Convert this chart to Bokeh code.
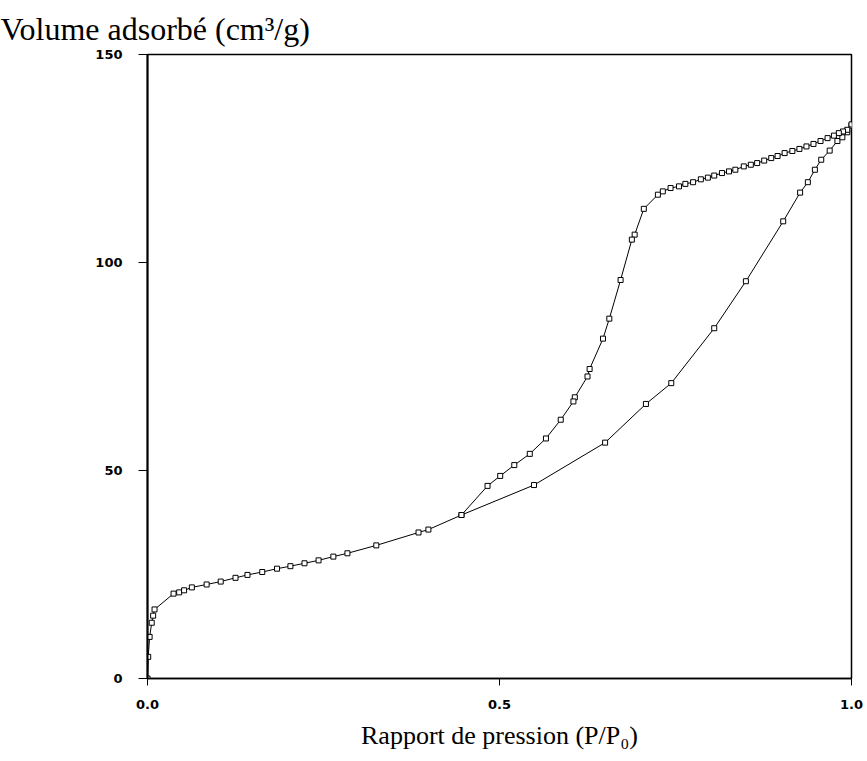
from bokeh.plotting import figure
from bokeh.models import FixedTicker, Range1d
from bokeh.embed import file_html
from bokeh.resources import INLINE

# Adsorption branch (P/P0, volume cm3/g)
ads_p = [0.0, 0.001, 0.003, 0.006, 0.008, 0.010, 0.037, 0.045, 0.052, 0.063,
         0.084, 0.104, 0.125, 0.142, 0.163, 0.184, 0.203, 0.223, 0.243, 0.264,
         0.284, 0.325, 0.385, 0.399, 0.446, 0.549, 0.650, 0.708, 0.744, 0.805,
         0.850, 0.903, 0.927, 0.938, 0.948, 0.957, 0.969, 0.980, 0.987, 0.994, 1.0]
ads_v = [0.0, 5.2, 10.0, 13.4, 15.1, 16.6, 20.4, 20.7, 21.2, 21.9,
         22.6, 23.3, 24.2, 24.9, 25.6, 26.4, 27.0, 27.7, 28.4, 29.3,
         30.1, 32.0, 35.1, 35.8, 39.3, 46.5, 56.7, 66.0, 71.0, 84.2,
         95.5, 109.9, 116.8, 119.3, 122.3, 124.7, 126.9, 129.2, 130.1, 131.3, 132.9]

# Desorption branch
des_p = [1.0, 0.994, 0.988, 0.982, 0.975, 0.966, 0.956, 0.946, 0.936, 0.926,
         0.916, 0.905, 0.895, 0.886, 0.876, 0.866, 0.857, 0.847, 0.835, 0.826,
         0.816, 0.805, 0.796, 0.786, 0.775, 0.764, 0.755, 0.743, 0.732, 0.725,
         0.705, 0.692, 0.688, 0.672, 0.656, 0.647, 0.628, 0.625, 0.607, 0.605,
         0.587, 0.566, 0.543, 0.521, 0.501, 0.483, 0.446]
des_v = [133.2, 131.9, 131.5, 131.1, 130.5, 129.9, 129.2, 128.5, 127.9, 127.3,
         126.8, 126.3, 125.6, 125.1, 124.5, 123.9, 123.5, 123.1, 122.3, 121.9,
         121.5, 120.9, 120.4, 120.0, 119.3, 118.9, 118.3, 117.9, 117.1, 116.3,
         112.9, 106.7, 105.5, 95.8, 86.5, 81.7, 74.4, 72.6, 67.6, 66.6,
         62.2, 57.7, 54.0, 51.3, 48.7, 46.3, 39.3]

x_ticks = [0.0, 0.5, 1.0]
x_tick_labels = ["0.0", "0.5", "1.0"]
y_ticks = [0, 50, 100, 150]

p = figure(width=867, height=761, output_backend="svg", toolbar_location=None,
           x_range=Range1d(0, 1), y_range=Range1d(0, 150),
           min_border_left=147, min_border_right=16, min_border_top=54,
           min_border_bottom=83)
p.background_fill_color = "white"
p.border_fill_color = "white"
p.outline_line_color = "black"
p.outline_line_width = 1.5
p.xgrid.visible = False
p.ygrid.visible = False

p.title.text = "Volume adsorb\u00e9 (cm\u00b3/g)"
p.title.text_font = "Liberation Serif"
p.title.text_font_style = "normal"
p.title.text_font_size = "32px"
p.title.text_color = "black"
p.title.align = "left"
p.title.offset = -147
p.title.standoff = 15

p.line(ads_p, ads_v, line_color="black", line_width=1)
p.line(des_p, des_v, line_color="black", line_width=1)
p.scatter(ads_p, ads_v, marker="square", size=5, fill_color="white",
          line_color="black", line_width=1)
p.scatter(des_p, des_v, marker="square", size=5, fill_color="white",
          line_color="black", line_width=1)

p.xaxis.ticker = FixedTicker(ticks=x_ticks)
p.xaxis.major_label_overrides = {t: l for t, l in zip(x_ticks, x_tick_labels)}
p.yaxis.ticker = FixedTicker(ticks=y_ticks)
for ax in (p.xaxis, p.yaxis):
    ax.minor_tick_line_color = None
    ax.major_tick_in = 0
    ax.major_label_text_font = "DejaVu Sans"
    ax.major_label_text_font_style = "bold"
    ax.major_label_text_font_size = "13px"
    ax.major_label_text_color = "black"
    ax.axis_line_color = "black"
    ax.major_tick_line_color = "black"
p.yaxis.major_tick_out = 9
p.yaxis.axis_line_width = 2
p.yaxis.major_label_standoff = 16
p.xaxis.major_tick_out = 7
p.xaxis.axis_line_width = 1.5
p.xaxis.major_label_standoff = 14

p.xaxis.axis_label = "Rapport de pression (P/P\u2080)"
p.xaxis.axis_label_text_font = "Liberation Serif"
p.xaxis.axis_label_text_font_style = "normal"
p.xaxis.axis_label_text_font_size = "26px"
p.xaxis.axis_label_text_color = "black"
p.xaxis.axis_label_standoff = 9

open("out.html", "w").write(file_html(p, INLINE))
